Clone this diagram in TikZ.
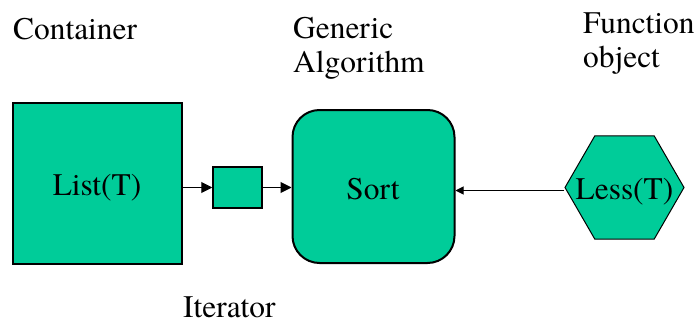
\documentclass[tikz,border=0pt]{standalone}
\usepackage{fontspec}
\newfontfamily\labelfont{texgyretermes-regular.otf}
\usetikzlibrary{arrows.meta,shapes.geometric}
\definecolor{boxgreen}{RGB}{0,204,153}
\tikzset{
  txt/.style={font=\labelfont\fontsize{31.4}{36}\selectfont},
  lbl/.style={txt,anchor=base west,inner sep=0pt},
  shapebox/.style={draw=black,fill=boxgreen,inner sep=0pt},
  link/.style={draw=black,line width=1pt,-{Triangle[length=11pt,width=11pt]}},
  smalllink/.style={draw=black,line width=1pt,-{Triangle[length=8pt,width=8pt]}}
}
\begin{document}
\begin{tikzpicture}[x=1pt,y=-1pt]
  \useasboundingbox (0,0) rectangle (699,324);
  % shapes
  \node[shapebox,line width=1.5pt,minimum width=169pt,minimum height=161pt] (list) at (97.5,183.5) {};
  \node[shapebox,line width=1.5pt,minimum width=49pt,minimum height=41pt] (iter) at (237.5,187.5) {};
  \node[shapebox,line width=2pt,rounded corners=27pt,minimum width=162pt,minimum height=153pt] (sort) at (373.5,186.5) {};
  \node[shapebox,line width=1pt,regular polygon,regular polygon sides=6,minimum size=119pt] (less) at (624.5,187.5) {};
  % texts inside the shapes
  \node[txt,anchor=base,inner sep=0pt] (listtxt) at (97,195) {List(T)};
  \node[txt,anchor=base,inner sep=0pt] (sorttxt) at (373,199) {Sort};
  \node[txt,anchor=base,inner sep=0pt] (lesstxt) at (624.5,199) {Less(T)};
  % connectors
  \coordinate (lessout) at ([yshift=-3pt]less.west);
  \draw[link] (iter.west -| list.east) -- (iter.west);
  \draw[link] (iter.east) -- (iter.east -| sort.west);
  \draw[smalllink] (lessout) -- (lessout -| sort.east);
  % captions
  \node[lbl] (cont) at (13,39) {Container};
  \node[lbl] (gen) at (293,38) {Generic};
  \node[lbl] (alg) at (293,72) {Algorithm};
  \node[lbl] (func) at (583,33) {Function};
  \node[lbl] (obj) at (583,67) {object};
  \node[lbl] (itlbl) at (183,317) {Iterator};
\end{tikzpicture}
\end{document}
